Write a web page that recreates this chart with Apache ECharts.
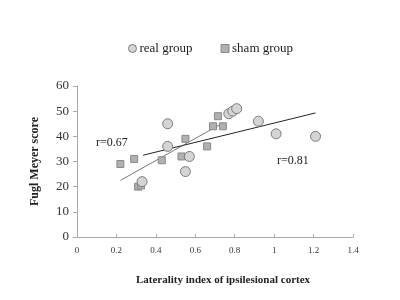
<!DOCTYPE html>
<html>
<head>
<meta charset="utf-8">
<script src="https://cdn.jsdelivr.net/npm/echarts@6/dist/echarts.min.js"></script>
<style>
  html, body { margin: 0; padding: 0; background: #fff; }
  #chart { width: 400px; height: 300px; }
</style>
</head>
<body>
<div id="chart"></div>
<script>
// real group points [laterality index, Fugl Meyer score]
var realGroup = [
  [0.46, 45], [0.46, 36], [0.33, 22], [0.55, 26], [0.57, 32],
  [0.77, 49], [0.79, 50], [0.81, 51], [0.92, 46], [1.01, 41], [1.21, 40]
];
// sham group points
var shamGroup = [
  [0.22, 29], [0.29, 31], [0.31, 20], [0.325, 20.5], [0.43, 30.5],
  [0.53, 32], [0.55, 39], [0.66, 36], [0.69, 44], [0.715, 48], [0.74, 44]
];
// trend lines (end points)
var realTrend = [[0.335, 32.5], [1.21, 49.3]];
var shamTrend = [[0.22, 22.5], [0.74, 45.3]];
var xTicks = [0, 1.4, 0.2];
var yTicks = [0, 60, 10];

var serif = "Liberation Serif";
var chart = echarts.init(document.getElementById("chart"));
var option = {
  animation: false,
  grid: { left: 77, right: 47, top: 86, bottom: 63 },
  legend: {
    top: 37,
    left: 123,
    itemGap: 28,
    itemWidth: 8,
    itemHeight: 8,
    textStyle: { fontFamily: serif, fontSize: 13, color: "#222", padding: [0, 0, 0, -2] },
    data: [
      { name: "real group", icon: "circle", itemStyle: { color: "#d4d4d4", borderColor: "#7a7a7a", borderWidth: 1 } },
      { name: "sham group", icon: "rect", itemStyle: { color: "#b0b0b0", borderColor: "#8a8a8a", borderWidth: 1 } }
    ]
  },
  xAxis: {
    type: "value",
    min: xTicks[0],
    max: xTicks[1],
    interval: xTicks[2],
    name: "Laterality index of ipsilesional cortex",
    nameLocation: "middle",
    nameGap: 38,
    nameTextStyle: { fontFamily: serif, fontWeight: "bold", fontSize: 11, color: "#222", padding: [0, 0, 0, 16] },
    axisLine: { lineStyle: { color: "#a8a8a8" } },
    axisTick: { show: true, inside: true, length: 3, lineStyle: { color: "#a8a8a8" } },
    axisLabel: { fontFamily: serif, fontSize: 9, color: "#333", margin: 9 },
    splitLine: { show: false }
  },
  yAxis: {
    type: "value",
    min: yTicks[0],
    max: yTicks[1],
    interval: yTicks[2],
    name: "Fugl Meyer score",
    nameLocation: "middle",
    nameGap: 36,
    nameTextStyle: { fontFamily: serif, fontWeight: "bold", fontSize: 12, color: "#222" },
    axisLine: { show: true, lineStyle: { color: "#a8a8a8" } },
    axisTick: { show: true, length: 4, lineStyle: { color: "#a8a8a8" } },
    axisLabel: { fontFamily: serif, fontSize: 13, color: "#333", margin: 8 },
    splitLine: { show: false }
  },
  series: [
    {
      name: "real group trend",
      type: "line",
      data: realTrend,
      symbol: "none",
      lineStyle: { color: "#222", width: 1 },
      z: 1
    },
    {
      name: "sham group trend",
      type: "line",
      data: shamTrend,
      symbol: "none",
      lineStyle: { color: "#555", width: 0.8 },
      z: 1
    },
    {
      name: "sham group",
      type: "scatter",
      symbol: "rect",
      symbolSize: 7,
      data: shamGroup,
      itemStyle: { color: "#b0b0b0", borderColor: "#8a8a8a", borderWidth: 1, opacity: 1 },
      z: 3
    },
    {
      name: "real group",
      type: "scatter",
      symbol: "circle",
      symbolSize: 10,
      data: realGroup,
      itemStyle: { color: "#d4d4d4", borderColor: "#7a7a7a", borderWidth: 1, opacity: 1 },
      z: 4
    }
  ],
  graphic: [
    { type: "text", left: 96, top: 137, style: { text: "r=0.67", font: "12px 'Liberation Serif'", fill: "#222" } },
    { type: "text", left: 277, top: 155, style: { text: "r=0.81", font: "12px 'Liberation Serif'", fill: "#222" } }
  ]
};
chart.setOption(option);
</script>
</body>
</html>
